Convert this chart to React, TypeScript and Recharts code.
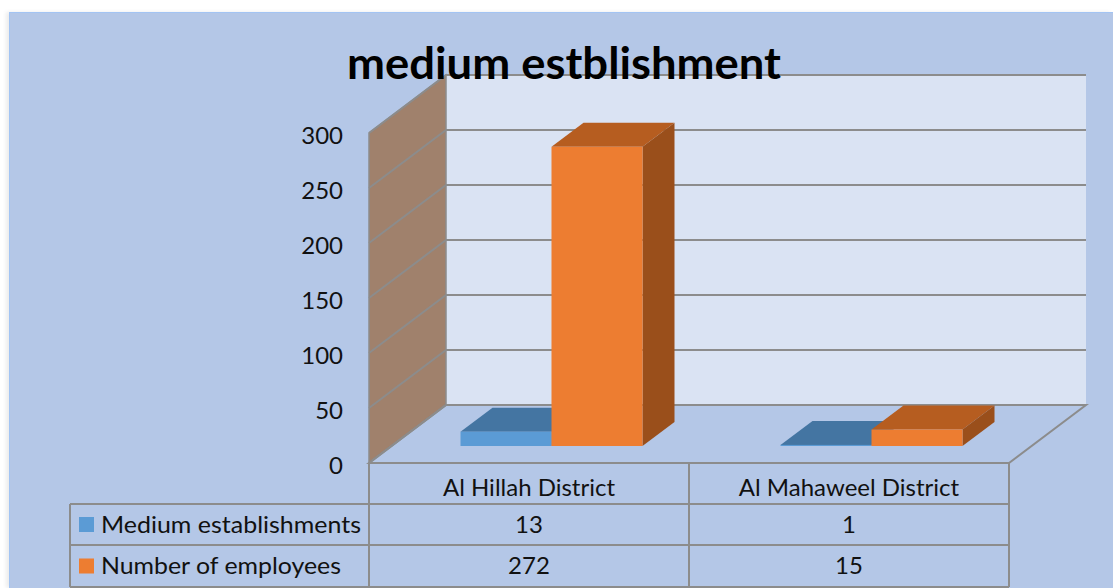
import { Bar, BarChart, XAxis, YAxis, usePlotArea } from 'recharts'

const categories = ['Al Hillah District', 'Al Mahaweel District']
const establishments = [13, 1]
const employees = [272, 15]
const yTicks = [0, 50, 100, 150, 200, 250, 300]

const seriesNames = ['Medium establishments', 'Number of employees']
const seriesColors = ['#5B9BD5', '#ED7D31']
const topColors = ['#4475A2', '#B65D20']
const sideColors = ['#3F6C96', '#9A4F1B']

const data = categories.map((name, i) => ({
  name,
  establishments: establishments[i],
  employees: employees[i],
}))

const FONT = 'Lato, sans-serif'
const LINE = '#8C8C8C'
// 3d box depth of the plot and of the bars inside it
const DEPTH_X = 77
const DEPTH_Y = 58
const BAR_DX = 32
const BAR_DY = 24
const YMAX = 300
const TABLE_LEFT = 70
const ROW_BOTTOMS = [504, 545, 587]

function Walls() {
  const plot = usePlotArea()
  if (!plot) return null
  const { x, y, width, height } = plot
  const bottom = y + height
  return (
    <g>
      <rect x={x + DEPTH_X} y={y - DEPTH_Y} width={width} height={height} fill='#DAE3F3' />
      <polygon
        points={`${x},${bottom} ${x},${y} ${x + DEPTH_X},${y - DEPTH_Y} ${x + DEPTH_X},${bottom - DEPTH_Y}`}
        fill='#A0816C'
        stroke={LINE}
        strokeWidth={1.5}
      />
      <polygon
        points={`${x},${bottom} ${x + DEPTH_X},${bottom - DEPTH_Y} ${x + DEPTH_X + width},${bottom - DEPTH_Y} ${x + width},${bottom}`}
        fill='#B4C7E7'
        stroke={LINE}
        strokeWidth={2}
      />
      {yTicks.map((t) => {
        const ty = bottom - (t / YMAX) * height
        return (
          <polyline
            key={t}
            points={`${x},${ty} ${x + DEPTH_X},${ty - DEPTH_Y} ${x + DEPTH_X + width},${ty - DEPTH_Y}`}
            fill='none'
            stroke={LINE}
            strokeWidth={2}
          />
        )
      })}
    </g>
  )
}

function DataTable() {
  const plot = usePlotArea()
  if (!plot) return null
  const { x, y, width, height } = plot
  const bottom = y + height
  const band = width / categories.length
  const rows = [establishments, employees]
  const last = ROW_BOTTOMS[ROW_BOTTOMS.length - 1]
  return (
    <g fontFamily={FONT} fontSize={24} fill='#111'>
      {[0, 1, 2].map((i) => (
        <line key={i} x1={x + i * band} x2={x + i * band} y1={bottom} y2={last} stroke={LINE} strokeWidth={2} />
      ))}
      <line x1={TABLE_LEFT} x2={TABLE_LEFT} y1={ROW_BOTTOMS[0]} y2={last} stroke={LINE} strokeWidth={2} />
      {ROW_BOTTOMS.map((ry) => (
        <line key={ry} x1={TABLE_LEFT} x2={x + width} y1={ry} y2={ry} stroke={LINE} strokeWidth={2} />
      ))}
      {rows.map((vals, r) => {
        const top = ROW_BOTTOMS[r]
        const mid = (top + ROW_BOTTOMS[r + 1]) / 2
        return (
          <g key={r}>
            <rect x={79} y={mid - 7.5} width={15} height={15} fill={seriesColors[r]} />
            <text x={101} y={mid + 8} textLength={r === 0 ? 260 : 240} lengthAdjust='spacingAndGlyphs'>
              {seriesNames[r]}
            </text>
            {vals.map((v, c) => (
              <text key={c} x={x + (c + 0.5) * band} y={mid + 8} textAnchor='middle'>
                {v}
              </text>
            ))}
          </g>
        )
      })}
      <text
        x={564}
        y={79}
        textAnchor='middle'
        fontSize={43}
        fontWeight={700}
        fill='#000'
        textLength={434}
        lengthAdjust='spacingAndGlyphs'
      >
        medium estblishment
      </text>
    </g>
  )
}

function Box(props: any) {
  const { x, y, width, height, index, seriesIndex } = props
  const bx = x + (DEPTH_X - BAR_DX) / 2
  const by = y - (DEPTH_Y - BAR_DY) / 2
  const front = seriesColors[seriesIndex]
  return (
    <g key={index}>
      <polygon
        points={`${bx},${by} ${bx + BAR_DX},${by - BAR_DY} ${bx + width + BAR_DX},${by - BAR_DY} ${bx + width},${by}`}
        fill={topColors[seriesIndex]}
      />
      <polygon
        points={`${bx + width},${by} ${bx + width + BAR_DX},${by - BAR_DY} ${bx + width + BAR_DX},${by + height - BAR_DY} ${bx + width},${by + height}`}
        fill={sideColors[seriesIndex]}
      />
      <rect x={bx} y={by} width={width} height={height} fill={front} />
    </g>
  )
}

function YTick(props: any) {
  const { x, y, payload } = props
  return (
    <text x={x} y={y + 3} dy='0.35em' textAnchor='end' fontFamily={FONT} fontSize={24} fill='#111'>
      {payload.value}
    </text>
  )
}

export default function App() {
  return (
    <div style={{ position: 'absolute', left: 0, top: 0, width: 1113, height: 588, background: '#fff', overflow: 'hidden' }}>
      <div
        style={{
          position: 'absolute',
          left: 9,
          top: 12,
          width: 1104,
          height: 576,
          background: '#B4C7E7',
          borderLeft: '1px solid #A3C4F3',
          borderTop: '1px solid #A3C4F3',
          boxShadow: '-3px 0 4px rgba(0,0,0,0.08)',
          boxSizing: 'border-box',
        }}
      />
      <div style={{ position: 'absolute', left: 0, top: 0 }}>
        <BarChart
          width={1113}
          height={588}
          data={data}
          barSize={91}
          barGap={0}
          margin={{ top: 133, right: 104, bottom: 84, left: 309 }}
        >
          <Walls />
          <XAxis
            dataKey='name'
            height={41}
            tickLine={false}
            axisLine={false}
            tickMargin={10}
            interval={0}
            tick={{ fontFamily: FONT, fontSize: 24, fill: '#111' }}
          />
          <YAxis
            width={60}
            domain={[0, YMAX]}
            ticks={yTicks}
            interval={0}
            tickLine={false}
            axisLine={false}
            tickMargin={20}
            tick={<YTick />}
          />
          <Bar
            dataKey='establishments'
            isAnimationActive={false}
            shape={(p: any) => <Box {...p} seriesIndex={0} />}
          />
          <Bar
            dataKey='employees'
            isAnimationActive={false}
            shape={(p: any) => <Box {...p} seriesIndex={1} />}
          />
          <DataTable />
        </BarChart>
      </div>
    </div>
  )
}
